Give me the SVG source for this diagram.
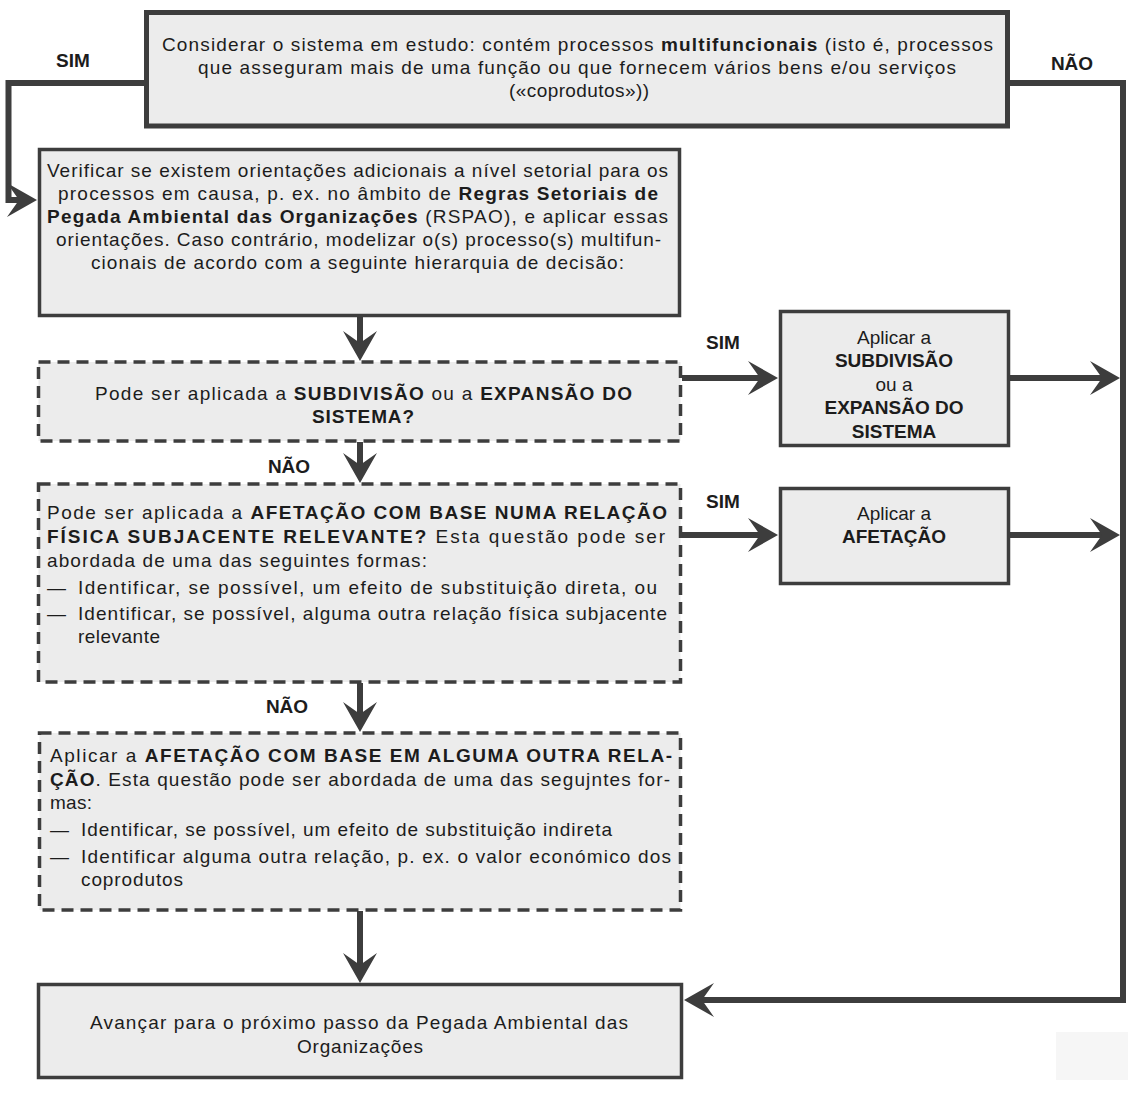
<svg xmlns="http://www.w3.org/2000/svg" width="1135" height="1094" viewBox="0 0 1135 1094">
<style>
.box{fill:#ececec;stroke:#3d3d3d;stroke-width:3.5}
.top{stroke-width:5}
.dash{stroke-dasharray:12 7}
.t{font-family:"Liberation Sans",Arial,sans-serif;font-size:19px;fill:#1c1c1c}
.c{text-anchor:middle}
.b{font-weight:bold}
.lbl{font-family:"Liberation Sans",Arial,sans-serif;font-size:19px;font-weight:bold;fill:#1c1c1c;text-anchor:middle}
.con{fill:none;stroke:#3d3d3d;stroke-width:6;stroke-linejoin:miter;stroke-linecap:butt}
</style>
<defs>
<marker id="ah" markerUnits="userSpaceOnUse" viewBox="-16 -18 34 36" markerWidth="34" markerHeight="36" refX="0" refY="0" orient="auto">
<path d="M16,0 L-14,-17 L-2,0 L-14,17 Z" fill="#3d3d3d"/>
</marker>
</defs>
<rect x="0" y="0" width="1135" height="1094" fill="#ffffff"/>
<rect x="1056" y="1032" width="72" height="48" fill="#f6f6f6"/>

<g id="connectors">
<path class="con" d="M146,83 H8.5 V200 H21" marker-end="url(#ah)"/>
<path class="con" d="M1008,83 H1123 V1000 H700" marker-end="url(#ah)"/>
<path class="con" d="M360,316 V345" marker-end="url(#ah)"/>
<path class="con" d="M360,442 V467" marker-end="url(#ah)"/>
<path class="con" d="M360,683 V716" marker-end="url(#ah)"/>
<path class="con" d="M360,911 V967" marker-end="url(#ah)"/>
<path class="con" d="M682,378 H762" marker-end="url(#ah)"/>
<path class="con" d="M682,535 H762" marker-end="url(#ah)"/>
<path class="con" d="M1010,378 H1104" marker-end="url(#ah)"/>
<path class="con" d="M1010,535 H1104" marker-end="url(#ah)"/>
<text class="lbl" x="73" y="67">SIM</text>
<text class="lbl" x="1072" y="70">NÃO</text>
<text class="lbl" x="723" y="349">SIM</text>
<text class="lbl" x="723" y="508">SIM</text>
<text class="lbl" x="289" y="473">NÃO</text>
<text class="lbl" x="287" y="713">NÃO</text>
</g>

<g id="n-start">
<rect class="box top" x="146.5" y="12.5" width="861" height="113.5"/>
<text class="t" x="162" y="51" textLength="831" lengthAdjust="spacing">Considerar o sistema em estudo: contém processos <tspan class="b">multifuncionais</tspan>  (isto é, processos</text>
<text class="t" x="198" y="74" textLength="758" lengthAdjust="spacing">que asseguram mais de uma função ou que fornecem vários bens e/ou serviços</text>
<text class="t" x="509" y="97" textLength="140" lengthAdjust="spacing">(«coprodutos»))</text>
</g>

<g id="n-verificar">
<rect class="box" x="39.5" y="149.5" width="640" height="166"/>
<text class="t" x="47" y="177" textLength="621" lengthAdjust="spacing">Verificar se existem orientações adicionais a nível setorial para os</text>
<text class="t" x="58" y="200" textLength="600" lengthAdjust="spacing">processos em causa, p. ex. no âmbito de <tspan class="b">Regras Setoriais de</tspan></text>
<text class="t" x="47" y="223" textLength="621" lengthAdjust="spacing"><tspan class="b">Pegada Ambiental das Organizações</tspan>  (RSPAO), e aplicar essas</text>
<text class="t" x="56" y="246" textLength="605" lengthAdjust="spacing">orientações. Caso contrário, modelizar o(s) processo(s) multifun-</text>
<text class="t" x="91" y="269" textLength="533" lengthAdjust="spacing">cionais de acordo com a seguinte hierarquia de decisão:</text>
</g>

<g id="n-q1">
<rect class="box dash" x="38.5" y="362" width="642" height="79"/>
<text class="t" x="95" y="400" textLength="537" lengthAdjust="spacing">Pode ser aplicada a <tspan class="b">SUBDIVISÃO</tspan> ou a <tspan class="b">EXPANSÃO DO</tspan></text>
<text class="t b" x="312" y="423" textLength="102" lengthAdjust="spacing">SISTEMA?</text>
</g>

<g id="n-q2">
<rect class="box dash" x="38.5" y="484" width="642" height="198"/>
<text class="t" x="47" y="519" textLength="620" lengthAdjust="spacing">Pode ser aplicada a <tspan class="b">AFETAÇÃO COM BASE NUMA RELAÇÃO</tspan></text>
<text class="t" x="47" y="543" textLength="618" lengthAdjust="spacing"><tspan class="b">FÍSICA SUBJACENTE RELEVANTE?</tspan> Esta questão pode ser</text>
<text class="t" x="47" y="567" textLength="380" lengthAdjust="spacing">abordada de uma das seguintes formas:</text>
<text class="t" x="47" y="594">—</text>
<text class="t" x="78" y="594" textLength="579" lengthAdjust="spacing">Identificar, se possível, um efeito de substituição direta, ou</text>
<text class="t" x="47" y="620">—</text>
<text class="t" x="78" y="620" textLength="589" lengthAdjust="spacing">Identificar, se possível, alguma outra relação física subjacente</text>
<text class="t" x="78" y="643" textLength="82" lengthAdjust="spacing">relevante</text>
</g>

<g id="n-q3">
<rect class="box dash" x="39.5" y="733" width="641" height="177"/>
<text class="t" x="50" y="762" textLength="622" lengthAdjust="spacing">Aplicar a <tspan class="b">AFETAÇÃO COM BASE EM ALGUMA OUTRA RELA-</tspan></text>
<text class="t" x="50" y="786" textLength="620" lengthAdjust="spacing"><tspan class="b">ÇÃO</tspan>. Esta questão pode ser abordada de uma das segujntes for-</text>
<text class="t" x="50" y="809" textLength="42" lengthAdjust="spacing">mas:</text>
<text class="t" x="50" y="836">—</text>
<text class="t" x="81" y="836" textLength="531" lengthAdjust="spacing">Identificar, se possível, um efeito de substituição indireta</text>
<text class="t" x="50" y="863">—</text>
<text class="t" x="81" y="863" textLength="590" lengthAdjust="spacing">Identificar alguma outra relação, p. ex. o valor económico dos</text>
<text class="t" x="81" y="886" textLength="102" lengthAdjust="spacing">coprodutos</text>
</g>

<g id="n-subdiv">
<rect class="box" x="780.5" y="311.5" width="228" height="134"/>
<text class="t c" x="894" y="344">Aplicar a</text>
<text class="t c b" x="894" y="367">SUBDIVISÃO</text>
<text class="t c" x="894" y="391">ou a</text>
<text class="t c b" x="894" y="414">EXPANSÃO DO</text>
<text class="t c b" x="894" y="438">SISTEMA</text>
</g>

<g id="n-afetacao">
<rect class="box" x="780.5" y="488.5" width="228" height="95"/>
<text class="t c" x="894" y="520">Aplicar a</text>
<text class="t c b" x="894" y="543">AFETAÇÃO</text>
</g>

<g id="n-end">
<rect class="box" x="38.5" y="984.5" width="643" height="93"/>
<text class="t" x="90" y="1029" textLength="538" lengthAdjust="spacing">Avançar para o próximo passo da Pegada Ambiental das</text>
<text class="t" x="297" y="1053" textLength="126" lengthAdjust="spacing">Organizações</text>
</g>
</svg>
